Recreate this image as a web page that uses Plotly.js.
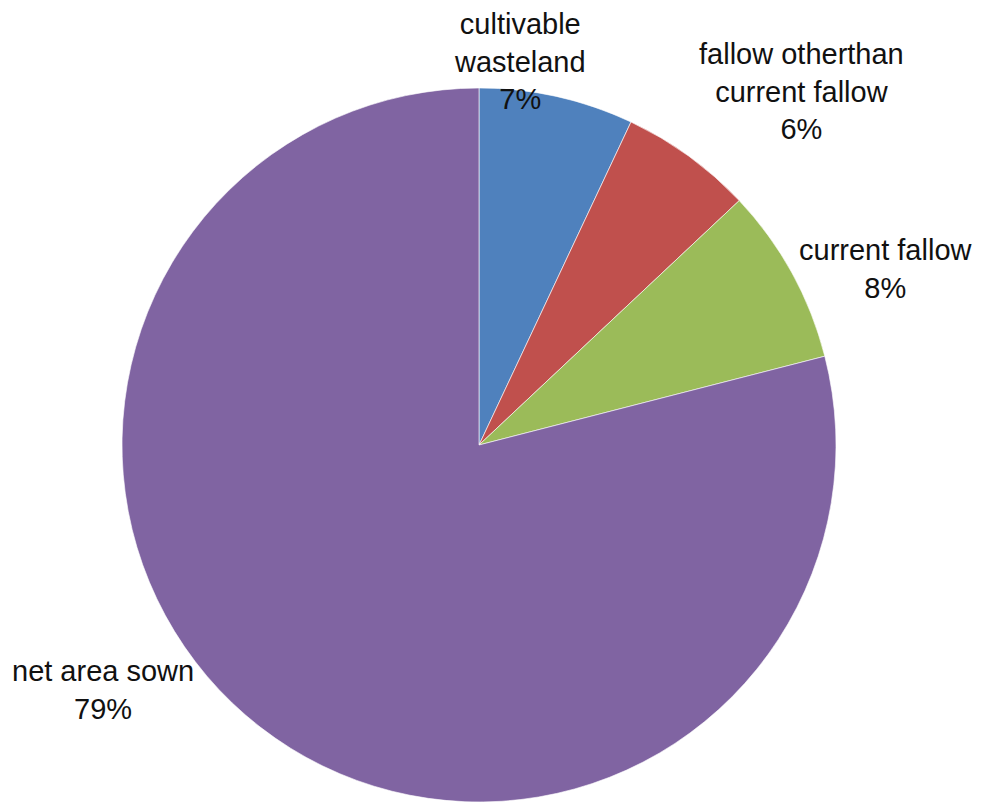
<!DOCTYPE html>
<html>
<head>
<meta charset="utf-8">
<script src="https://cdn.plot.ly/plotly-3.0.1.min.js"></script>
<style>html,body{margin:0;padding:0;background:#fff;}#chart{width:984px;height:803px;}</style>
</head>
<body>
<div id="chart"></div>
<script>
const labels = ["cultivable wasteland", "fallow otherthan current fallow", "current fallow", "net area sown"];
const labelLines = ["cultivable<br>wasteland", "fallow otherthan<br>current fallow", "current fallow", "net area sown"];
const values = [7, 6, 8, 79];
const colors = ["#4F81BD", "#C0504D", "#9BBB59", "#8064A2"];

const W = 984, H = 803;
const cx = 479, cy = 445, r = 357;
// label anchor positions (pixels) for the outside labels
const labelPos = [[520, 62], [801, 91], [886, 269], [103, 690]];

const total = values.reduce((a, b) => a + b, 0);
const annotations = values.map((v, i) => ({
  xref: "paper", yref: "paper",
  x: labelPos[i][0] / W, y: 1 - labelPos[i][1] / H,
  xanchor: "center", yanchor: "middle",
  text: labelLines[i] + "<br>" + Math.round(v / total * 100) + "%",
  showarrow: false,
  font: {family: "Liberation Sans, Arial, sans-serif", size: 29, color: "#111"}
}));

const trace = {
  type: "pie",
  labels: labels,
  values: values,
  sort: false,
  direction: "clockwise",
  rotation: 0,
  textinfo: "none",
  hoverinfo: "label+percent",
  marker: {colors: colors, line: {color: "rgba(255,255,255,0.6)", width: 1}},
  domain: {x: [(cx - r) / W, (cx + r) / W], y: [(H - cy - r) / H, (H - cy + r) / H]}
};

Plotly.newPlot("chart", [trace], {
  width: W, height: H,
  margin: {l: 0, r: 0, t: 0, b: 0},
  showlegend: false,
  paper_bgcolor: "#fff",
  annotations: annotations
}, {displayModeBar: false});
</script>
</body>
</html>
